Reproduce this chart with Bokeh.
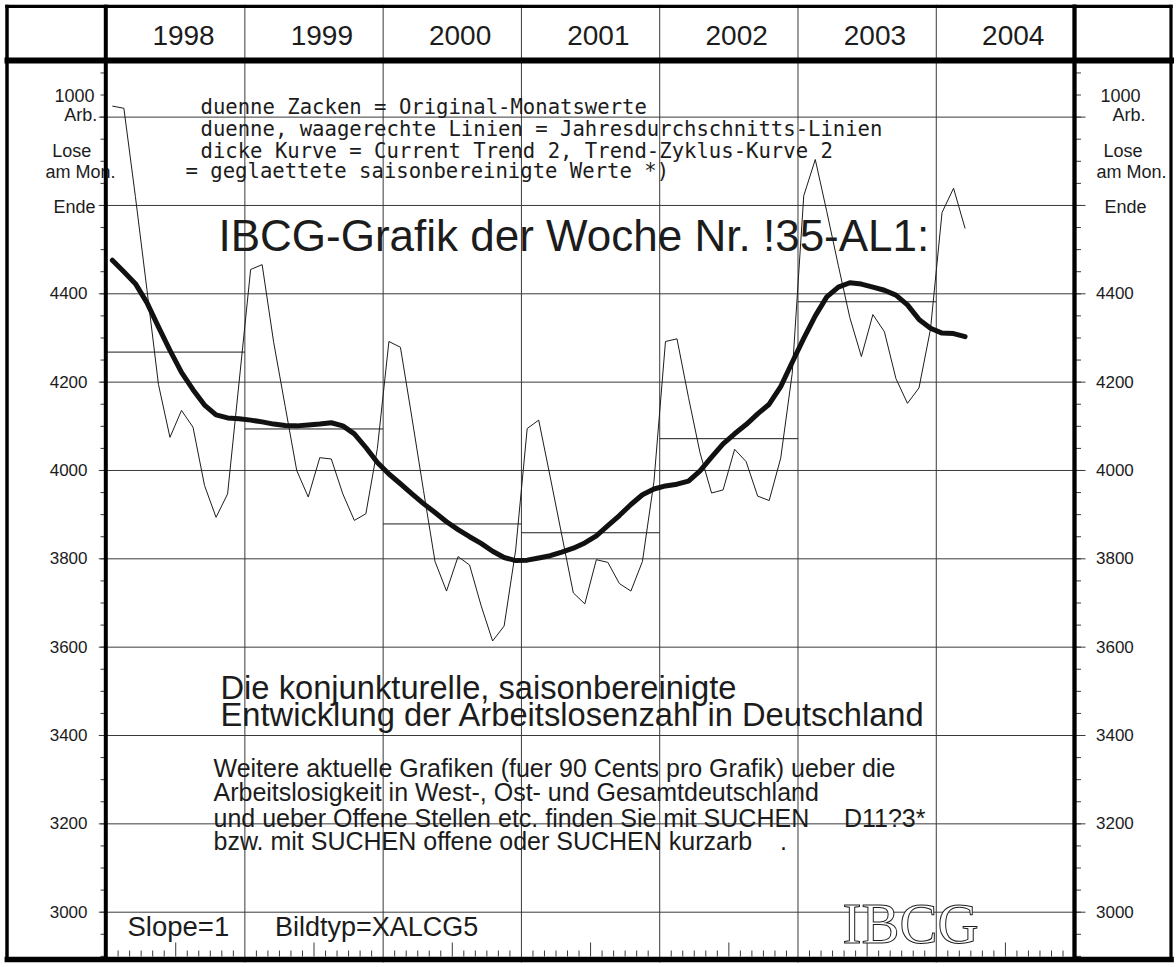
from bokeh.plotting import figure
from bokeh.models import Range1d
from bokeh.core.properties import value
from bokeh.embed import file_html
from bokeh.resources import INLINE

# ---------------- data ----------------
years = [1998, 1999, 2000, 2001, 2002, 2003, 2004]
year_labels = ["1998", "1999", "2000", "2001", "2002", "2003", "2004"]

# original monthly values (1000 unemployed, end of month), Jan 1998 .. Mar 2004
monthly = [
    4825, 4820, 4620, 4410, 4195, 4075, 4136, 4098, 3966, 3894, 3947, 4200,
    4455, 4466, 4290, 4145, 4000, 3940, 4029, 4026, 3947, 3887, 3902, 4050,
    4292, 4279, 4119, 3955, 3794, 3727, 3805, 3786, 3694, 3614, 3648, 3820,
    4095, 4114, 3985, 3854, 3723, 3698, 3798, 3792, 3744, 3727, 3794, 3975,
    4292, 4298, 4165, 4040, 3949, 3956, 4048, 4020, 3942, 3932, 4028, 4220,
    4622, 4704, 4586, 4464, 4346, 4258, 4353, 4314, 4208, 4152, 4187, 4320,
    4584, 4639, 4548,
]
# smoothed trend-cycle curve ("Current Trend 2")
trend = [
    4476, 4450, 4423, 4380, 4325, 4272, 4222, 4183, 4148, 4126, 4119, 4117,
    4114, 4110, 4105, 4102, 4101, 4103, 4105, 4108, 4101, 4083, 4052, 4018,
    3992, 3970, 3947, 3925, 3905, 3884, 3866, 3850, 3835, 3817, 3803, 3796,
    3797, 3802, 3807, 3815, 3824, 3836, 3852, 3875, 3898, 3923, 3945, 3958,
    3965, 3969, 3976, 3999, 4030, 4060, 4083, 4104, 4128, 4150, 4190, 4245,
    4299, 4350, 4393, 4415, 4425, 4422, 4415, 4408, 4397, 4375, 4342, 4322,
    4311, 4310, 4303,
]
annual_years = [1998, 1999, 2000, 2001, 2002, 2003]
annual_avg = [4268, 4094, 3879, 3859, 4072, 4382]

y_major = [3000, 3200, 3400, 3600, 3800, 4000, 4200, 4400, 4600, 4800]
y_labeled = [3000, 3200, 3400, 3600, 3800, 4000, 4200, 4400]
y_minor = list(range(2900, 4901, 50))

unit_lines = ["1000", "Arb.", "Lose", "am Mon.", "Ende"]
legend_lines = [
    "duenne Zacken = Original-Monatswerte",
    "duenne, waagerechte Linien = Jahresdurchschnitts-Linien",
    "dicke Kurve = Current Trend 2, Trend-Zyklus-Kurve 2",
    "= geglaettete saisonbereinigte Werte *)",
]
title_text = "IBCG-Grafik der Woche Nr. !35-AL1:"
subtitle_lines = [
    "Die konjunkturelle, saisonbereinigte",
    "Entwicklung der Arbeitslosenzahl in Deutschland",
]
NB = "\u00a0"
info_lines = [
    "Weitere aktuelle Grafiken (fuer 90 Cents pro Grafik) ueber die",
    "Arbeitslosigkeit in West-, Ost- und Gesamtdeutschland",
    "und ueber Offene Stellen etc. finden Sie mit SUCHEN" + NB * 5 + "D11?3*",
    "bzw. mit SUCHEN offene oder SUCHEN kurzarb" + NB * 4 + ".",
]
footer_texts = ["Slope=1", "Bildtyp=XALCG5"]
logo_text = "IBCG"

# ---------------- layout (page pixels -> data) ----------------
PX_1998 = 106.09
PX_PER_YEAR = 138.28
PY_4400 = 293.3
PX_PER_UNIT = 0.44171
ORG_X, ORG_Y = 4, 4
W, H = 1170, 960

# empirical baseline correction per font (fraction of font size)
BASE_FIX = {"Liberation Sans": 0.39, "DejaVu Sans Mono": 0.24, "Liberation Serif": 0.27}


def X(px):
    return 1998 + (px - PX_1998) / PX_PER_YEAR


def Y(py):
    return 4400 + (PY_4400 - py) / PX_PER_UNIT


def dpx(n):
    return n / PX_PER_YEAR


def dpy(n):
    return n / PX_PER_UNIT


p = figure(width=W, height=H,
           x_range=Range1d(X(ORG_X), X(ORG_X + W)),
           y_range=Range1d(Y(ORG_Y + H), Y(ORG_Y)),
           x_axis_location=None, y_axis_location=None,
           toolbar_location=None, output_backend="svg",
           min_border=0, title=None)
p.grid.visible = False
p.outline_line_color = None
p.background_fill_color = "white"
p.border_fill_color = "white"
p.styles = {"position": "absolute", "left": f"{ORG_X}px", "top": f"{ORG_Y}px"}

GRID = "#3a3a3a"
INK = "#1c1c1c"
X_START, X_END = years[0], years[-1] + 1

# horizontal grid lines (extend as major ticks into both side columns)
p.segment(x0=[X(98.3)] * len(y_major), x1=[X(1085)] * len(y_major),
          y0=y_major, y1=y_major, line_color=GRID, line_width=1)
# minor ticks every 50
p.segment(x0=[X(100)] * len(y_minor), x1=[X_START] * len(y_minor),
          y0=y_minor, y1=y_minor, line_color=GRID, line_width=1)
p.segment(x0=[X_END] * len(y_minor), x1=[X(1080.5)] * len(y_minor),
          y0=y_minor, y1=y_minor, line_color=GRID, line_width=1)

# year separators (through header and chart)
year_bounds = years[1:]
p.segment(x0=year_bounds, x1=year_bounds,
          y0=[Y(4)] * len(year_bounds), y1=[Y(962)] * len(year_bounds),
          line_color=GRID, line_width=1)

# monthly ticks on the bottom edge
tx, ty0, ty1 = [], [], []
for yr in years:
    for k in range(1, 12):
        tx.append(yr + k / 12)
        ty0.append(Y(956))
        ty1.append(Y(956) + dpy(14 if k == 6 else 6))
p.segment(x0=tx, x1=tx, y0=ty0, y1=ty1, line_color=GRID, line_width=1)

# annual average lines
p.segment(x0=annual_years, x1=[a + 1 for a in annual_years],
          y0=annual_avg, y1=annual_avg, line_color=INK, line_width=1)

# monthly zigzag + smoothed trend
mx = [years[0] + (i + 0.5) / 12 for i in range(len(monthly))]
p.line(mx, monthly, line_color=INK, line_width=1)
tmx = [years[0] + (i + 0.5) / 12 for i in range(len(trend))]
p.line(tmx, trend, line_color="#111111", line_width=5, line_join="round", line_cap="round")


def base(py, size, font):
    return Y(py - BASE_FIX[font] * size)


def txt(px, py, s, size, font="Liberation Sans", align="left", color=INK):
    p.text(x=[X(px)], y=[base(py, size, font)], text=[s], text_font=value(font),
           text_font_size=f"{size}px", text_align=align,
           text_baseline="alphabetic", text_color=color)


# header year labels
p.text(x=[yv + 0.5 + dpx(7.8) for yv in years],
       y=[base(45.7, 28, "Liberation Sans")] * len(years), text=year_labels,
       text_font=value("Liberation Sans"), text_font_size="28px",
       text_align="center", text_baseline="alphabetic", text_color=INK)

# tick labels, left and right
lab = [str(v) for v in y_labeled]
fix = dpy(BASE_FIX["Liberation Sans"] * 17)
p.text(x=[X(87)] * len(y_labeled), y=[v - dpy(6.2) + fix for v in y_labeled], text=lab,
       text_font=value("Liberation Sans"), text_font_size="17px",
       text_align="right", text_baseline="alphabetic", text_color=INK)
p.text(x=[X(1095.5)] * len(y_labeled), y=[v - dpy(6.2) + fix for v in y_labeled], text=lab,
       text_font=value("Liberation Sans"), text_font_size="17px",
       text_align="left", text_baseline="alphabetic", text_color=INK)

# unit block, left and right
unit_base = [101.7, 121.7, 157.3, 179.0, 213.3]
left_pos = [(94, "right"), (96.7, "right"), (90.7, "right"), (45, "left"), (95, "right")]
right_pos = [1100, 1112, 1103, 1096, 1104]
for s, b, (lx, la), rx in zip(unit_lines, unit_base, left_pos, right_pos):
    txt(lx, b, s, 18, align=la)
    txt(rx, b, s, 18, align="left")

# legend block
for s, b, lx in zip(legend_lines, [111.7, 133.3, 155.7, 175.0], [200, 200, 200, 185]):
    txt(lx, b, s, 20.6, font="DejaVu Sans Mono")

# title
txt(218, 252, title_text, 44)

# subtitle
for s, b in zip(subtitle_lines, [700, 727]):
    txt(220, b, s, 32.7)

# info block
for s, b in zip(info_lines, [777, 801.7, 827, 850.7]):
    txt(213, b, s, 25)

# footer
txt(127, 936.7, footer_texts[0], 27.5)
txt(274.5, 936.7, footer_texts[1], 27)

# logo (outlined serif)
try:
    p.text(x=[X(842)], y=[base(938, 57, "Liberation Serif")], text=[logo_text],
           text_font=value("Liberation Serif"),
           text_font_size="57px", text_align="left", text_baseline="alphabetic",
           text_color="white", text_outline_color=INK)
except Exception:
    txt(842, 938, logo_text, 57, font="Liberation Serif", color="#444")


# heavy frame lines
def seg(x0, y0, x1, y1, w):
    p.segment(x0=[X(x0)], y0=[Y(y0)], x1=[X(x1)], y1=[Y(y1)],
              line_color="black", line_width=w, line_cap="square")


seg(6.5, 5.7, 1170.5, 5.7, 3.4)      # top
seg(6.5, 5.7, 6.5, 959.0, 3.5)       # left
seg(1170.5, 5.7, 1170.5, 959.0, 3.2) # right
seg(6.5, 959.0, 1170.5, 959.0, 5.7)  # bottom
seg(6.5, 60.0, 1170.5, 60.0, 6)      # header separator
seg(105.3, 5.7, 105.3, 959.0, 4)     # left column separator
seg(1074.0, 5.7, 1074.0, 959.0, 4.3) # right column separator

open("out.html", "w").write(file_html(p, INLINE))
